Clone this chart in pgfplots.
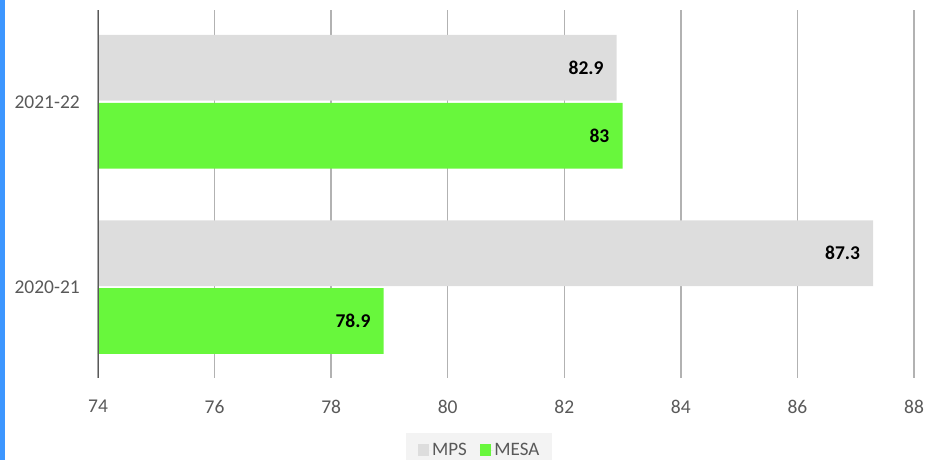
\documentclass[border=0pt]{standalone}
\usepackage{fontspec}
\setmainfont{Carlito}
\usepackage{pgfplots}
\pgfplotsset{compat=1.18}
\definecolor{mpsgray}{RGB}{221,221,221}
\definecolor{mesagreen}{RGB}{104,247,60}
\definecolor{txtgray}{RGB}{89,89,89}
\definecolor{gridgray}{RGB}{178,178,178}
\definecolor{edgeblue}{RGB}{60,150,255}
\definecolor{legbg}{RGB}{243,243,243}
\begin{document}
\begin{tikzpicture}
\useasboundingbox (0pt,0pt) rectangle (940pt,460pt);
\fill[edgeblue] (0pt,0pt) rectangle (5pt,460pt);
\begin{axis}[
  at={(98pt,82pt)}, anchor=south west,
  scale only axis, width=816pt, height=368pt,
  xmin=74, xmax=88, ymin=-0.49, ymax=1.495,
  xtick={74,76,...,88},
  ytick={0,1}, yticklabels={2020-21,2021-22},
  axis y line*=left, axis x line*=bottom,
  x axis line style={draw=none},
  y axis line style={draw=none},
  xmajorgrids=true,
  major grid style={draw=gridgray, line width=1.5pt},
  major tick length=0pt,
  /pgf/number format/assume math mode=true,
  xticklabel style={font=\fontsize{19.5}{20}\selectfont, text=txtgray, anchor=center, yshift=-28.5pt},
  yticklabel style={font=\fontsize{19.5}{20}\selectfont, text=txtgray, anchor=east, inner sep=0pt, xshift=-18pt},
  legend columns=2,
  legend style={at={(0.4669,-0.1957)}, anchor=center, fill=legbg, draw=none,
    font=\fontsize{19}{20}\selectfont, text=txtgray, inner xsep=12pt, inner ysep=9pt,
    /tikz/every even column/.append style={column sep=12pt},
    nodes={inner sep=1pt}},
  legend image code/.code={\fill[#1, draw=none] (0pt,-5.75pt) rectangle (11.5pt,5.75pt); \path (0pt,0pt) -- (13.5pt,0pt);},
]
\addplot[xbar, bar width=0.355, bar shift=0.183, fill=mpsgray, draw=none,
  nodes near coords,
  every node near coord/.append style={anchor=east, xshift=-13pt, yshift=34pt, inner sep=0pt, text=black, font=\bfseries\fontsize{19.5}{20}\selectfont}]
  coordinates {(87.3,0) (82.9,1)};
\addlegendentry{MPS}
\addplot[xbar, bar width=0.355, bar shift=-0.183, fill=mesagreen, draw=none,
  nodes near coords,
  every node near coord/.append style={anchor=east, xshift=-13pt, yshift=-34pt, inner sep=0pt, text=black, font=\bfseries\fontsize{19.5}{20}\selectfont}]
  coordinates {(78.9,0) (83,1)};
\addlegendentry{MESA}
\draw[txtgray, line width=2pt] (rel axis cs:0,0) -- (rel axis cs:0,1);
\end{axis}
\end{tikzpicture}
\end{document}
